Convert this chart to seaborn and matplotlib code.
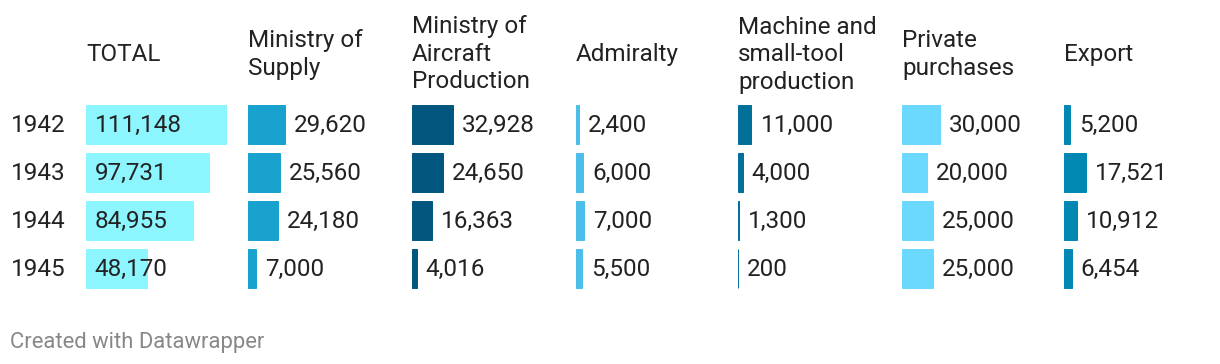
import numpy as np
import pandas as pd
import matplotlib
matplotlib.use('Agg')
from matplotlib import pyplot as plt
import seaborn as sns

years = ['1942', '1943', '1944', '1945']
columns = ['TOTAL', 'Ministry of Supply', 'Ministry of Aircraft Production', 'Admiralty',
           'Machine and small-tool production', 'Private purchases', 'Export']
headers = [['TOTAL'], ['Ministry of', 'Supply'], ['Ministry of', 'Aircraft', 'Production'],
           ['Admiralty'], ['Machine and', 'small-tool', 'production'], ['Private', 'purchases'],
           ['Export']]
total = [111148, 97731, 84955, 48170]
supply = [29620, 25560, 24180, 7000]
aircraft = [32928, 24650, 16363, 4016]
admiralty = [2400, 6000, 7000, 5500]
machine = [11000, 4000, 1300, 200]
private = [30000, 20000, 25000, 25000]
export = [5200, 17521, 10912, 6454]
colours = ['#8cf5fd', '#19a2cd', '#00567e', '#4bbee9', '#006f9a', '#6bd8fd', '#0088b2']

series = [total, supply, aircraft, admiralty, machine, private, export]
df = pd.DataFrame({'year': years * len(columns),
                   'column': np.repeat(columns, len(years)),
                   'value': np.concatenate(series)})

W, H = 1220, 364
TXT = '#222222'
FS = 17.5
sns.set_theme(style='white')
plt.rcParams['font.family'] = ['Roboto', 'DejaVu Sans']

fig = plt.figure(figsize=(W / 100, H / 100), dpi=100)

# left edge of each column, pixels
col_x = [86, 248, 412, 576, 738, 902, 1064]
px_per_unit = 141 / 111148
ax_w = 150
rows_top, rows_bottom = 100, 292

for k, col in enumerate(columns):
    ax = fig.add_axes([(col_x[k] - 0.5) / W, (H - rows_bottom) / H, ax_w / W,
                       (rows_bottom - rows_top) / H])
    sub = df[df['column'] == col]
    sns.barplot(data=sub, x='value', y='year', order=years, orient='h', ax=ax,
                color=colours[k], saturation=1, width=39 / 48, errorbar=None,
                edgecolor=colours[k], linewidth=0.7)
    ax.set_xlim(0, ax_w / px_per_unit)
    ax.set_ylim(3.5, -0.5)
    ax.axis('off')
    for i, v in enumerate(sub['value']):
        x = 0 if k == 0 else v
        ax.annotate(f'{v:,}', xy=(x, i), xytext=(9, -8), textcoords='offset pixels',
                    va='baseline', ha='left', fontsize=FS, color=TXT, annotation_clip=False)
    if k == 0:
        for i, y in enumerate(years):
            ax.annotate(y, xy=(11, i), xycoords=('figure pixels', 'data'), xytext=(0, -8),
                        textcoords='offset pixels', va='baseline', ha='left',
                        fontsize=FS, color=TXT, annotation_clip=False)
    # header lines, vertically centred on the header band
    n = len(headers[k])
    for j, line in enumerate(headers[k]):
        base = 61 + 27.5 * (j - (n - 1) / 2)
        fig.text(col_x[k] / W, (H - base) / H, line, ha='left', va='baseline',
                 fontsize=FS, color=TXT)

fig.text(10 / W, (H - 348) / H, 'Created with Datawrapper', ha='left', va='baseline',
         fontsize=15.8, color='#888888')

fig.savefig('out.png', dpi=100, facecolor='white')
